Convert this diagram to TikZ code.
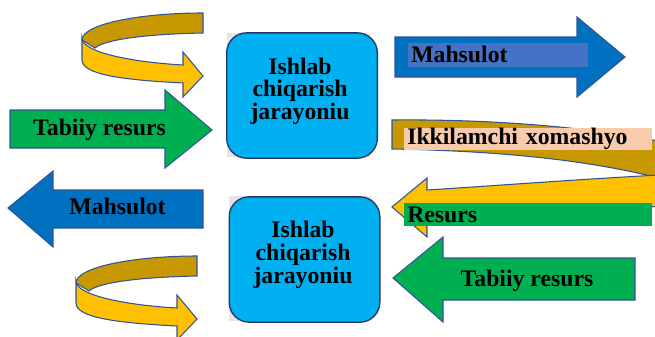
\documentclass[tikz,border=0pt]{standalone}
\usepackage{fontspec}
\setmainfont{Liberation Serif}
\usetikzlibrary{calc,positioning}

\definecolor{procblue}{HTML}{00B0F0}
\definecolor{navy}{HTML}{1F3864}
\definecolor{edgeblue}{HTML}{2F5597}
\definecolor{flowgreen}{HTML}{00B050}
\definecolor{flowblue}{HTML}{0070C0}
\definecolor{tagblue}{HTML}{4472C4}
\definecolor{peach}{HTML}{F8CBAD}
\definecolor{gold}{RGB}{200,152,0}
\definecolor{amber}{HTML}{FFC000}

\tikzset{
  txt/.style={font=\bfseries\fontsize{17.8}{17}\selectfont, inner sep=0pt},
  proc/.style={draw=navy, line width=1pt, fill=procblue, rounded corners=15pt,
               minimum width=113pt, minimum height=94pt},
  blk/.style={draw=edgeblue, line width=0.8pt, line join=miter},
  back/.style={blk, fill=gold},
  front/.style={blk, fill=amber},
  tag/.style={txt, anchor=north west, inner xsep=2.25pt, inner ysep=0pt, align=left}
}

\begin{document}
\begin{tikzpicture}[x=0.75pt, y=-0.75pt]

  \useasboundingbox (0,0) rectangle (655,336);
  \clip (0,0) rectangle (655,336);

  % curled arrows on the left
  \foreach \dx/\dy in {0/0,-6/243} {
    \begin{scope}[shift={(\dx,\dy)}]
      \draw [back] (203,13) -- (203,33) .. controls (150,34) and (105,39) .. (95,48)
        -- (82,40) .. controls (82,24) and (140,13) .. (203,13) -- cycle;
      \draw [front] (82,38) .. controls (82,52) and (130,62) .. (183,65) -- (183,52)
        -- (203,76) -- (183,97) -- (183,83) .. controls (125,80) and (82,75) .. (82,60) -- cycle;
    \end{scope}
  }

  % curled arrow on the right
  \draw [back] (392,120) -- (392,149) .. controls (500,151) and (610,160) .. (700,190)
    -- (700,150) .. controls (610,128) and (500,119) .. (392,120) -- cycle;
  \draw [front] (392,207) -- (427,178) -- (427,190) .. controls (520,184) and (610,177) .. (700,173)
    -- (700,205) .. controls (610,208) and (520,213) .. (427,216) -- (427,237) -- cycle;

  % straight arrows
  \draw [blk, fill=flowgreen] (10,110) -- (165,110) -- (165,90) -- (212,130)
    -- (165,168) -- (165,148) -- (10,148) -- cycle;
  \draw [blk, fill=flowblue] (395,37) -- (577,37) -- (577,17) -- (625,57)
    -- (577,97) -- (577,77) -- (395,77) -- cycle;
  \draw [blk, fill=flowblue] (203,190) -- (53,190) -- (53,171) -- (8,208)
    -- (53,247) -- (53,228) -- (203,228) -- cycle;
  \draw [blk, fill=flowgreen] (635,258) -- (443,258) -- (443,237) -- (393,278)
    -- (443,322) -- (443,300) -- (635,300) -- cycle;

  % process boxes
  \fill [black!10] (227,33) rectangle (370,157);
  \fill [black!10] (229,196) rectangle (372,321);
  \node [proc] (procA) at (302,95.5) {};
  \node [proc] (procB) at (304.5,259.5) {};
  \node [txt, align=center] (procAtxt) at (300,91) {Ishlab\\chiqarish\\jarayoniu};
  \node [txt, align=center] (procBtxt) at (303,254.7) {Ishlab\\chiqarish\\jarayoniu};

  % labels
  \node [txt, anchor=base] (resursL) at (99.5,135) {Tabiiy resurs};
  \node [txt, anchor=base] (mahsulotL) at (117.5,214) {Mahsulot};
  \node [txt, anchor=base] (resursR) at (527,286) {Tabiiy resurs};
  \node [tag, fill=tagblue, minimum width=135pt, text width=130.5pt,
         text height=14.5pt, text depth=3.5pt] (mahsulotR) at (408,43) {Mahsulot};
  \node [tag, fill=peach, minimum width=186pt, text width=181.5pt,
         text height=12.3pt, text depth=4.2pt] (ikkilamchi) at (404,128) {Ikkilamchi xomashyo};
  \node [tag, fill=flowgreen, minimum width=186pt, text width=181.5pt,
         text height=14.25pt, text depth=3pt] (resursTag) at (404,203) {Resurs};

\end{tikzpicture}
\end{document}
